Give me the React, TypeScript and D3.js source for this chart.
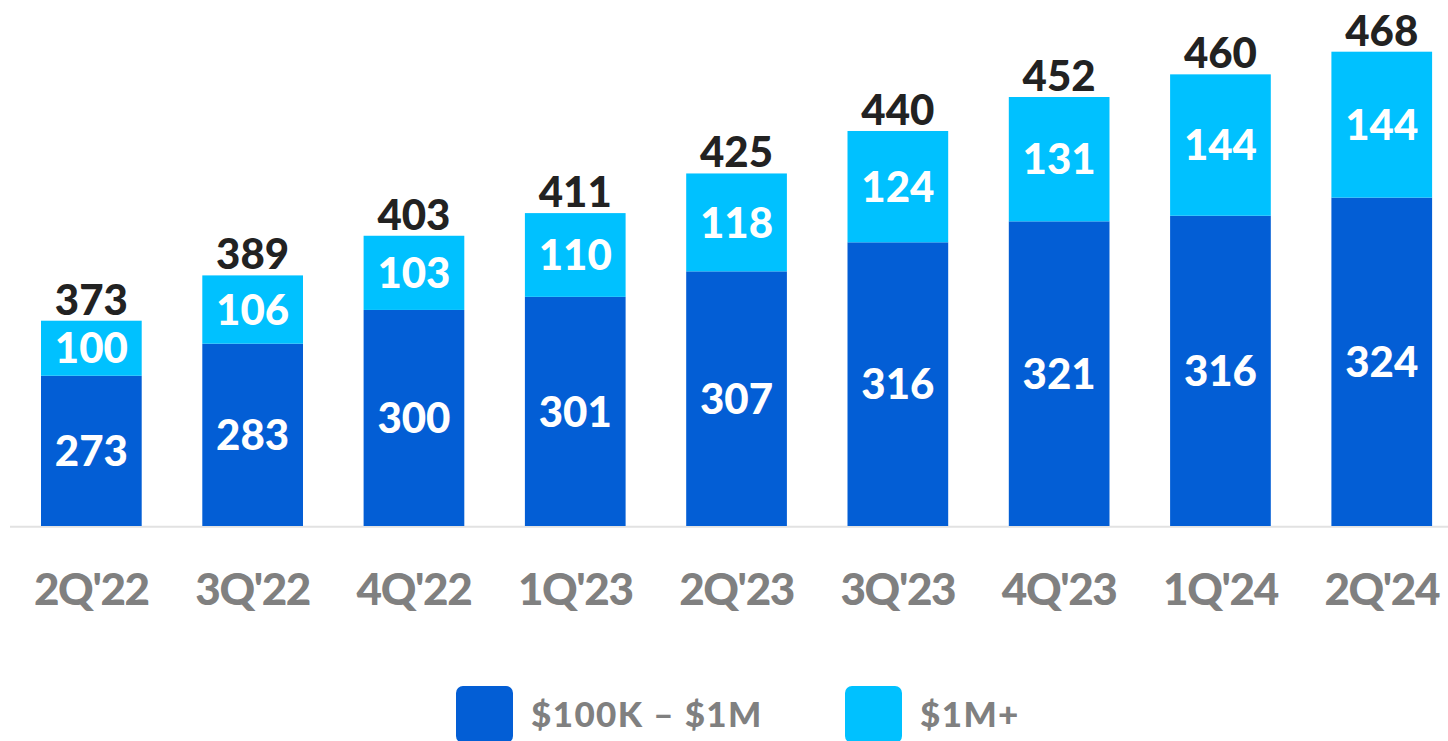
import React from "react";
import * as d3 from "d3";

const categories = ["2Q'22", "3Q'22", "4Q'22", "1Q'23", "2Q'23", "3Q'23", "4Q'23", "1Q'24", "2Q'24"];
const midTier = [273, 283, 300, 301, 307, 316, 321, 316, 324];
const topTier = [100, 106, 103, 110, 118, 124, 131, 144, 144];
const totals = [373, 389, 403, 411, 425, 440, 452, 460, 468];
const legendLabels = ["$100K – $1M", "$1M+"];

const W = 1448;
const H = 741;
const DARK = "#035ED5";
const LIGHT = "#00C1FF";
const FONT = "Lato, 'Open Sans', sans-serif";

export default function App() {
  const x = d3.scaleBand<string>().domain(categories).range([41, 1432.1]).paddingInner(0.3757).paddingOuter(0);
  const y = d3.scaleLinear().domain([300.5, 468]).range([526, 51.7]);
  const base = y(300.5);
  const legendColor = d3.scaleOrdinal<string, string>().domain(legendLabels).range([DARK, LIGHT]);
  const legendX = [456, 845];

  return (
    <svg width={W} height={H} style={{ position: "absolute", left: 0, top: 0, background: "#fff" }}>
      <line x1={10} x2={W} y1={526.8} y2={526.8} stroke="#e2e2e2" strokeWidth={2} />
      {categories.map((c, i) => {
        const bx = x(c)!;
        const bw = x.bandwidth();
        const topY = y(totals[i]);
        const h = base - topY;
        const darkH = (h * midTier[i]) / totals[i];
        const splitY = base - darkH;
        const cx = bx + bw / 2;
        return (
          <g key={c}>
            <rect x={bx} y={splitY} width={bw} height={darkH} fill={DARK} />
            <rect x={bx} y={topY} width={bw} height={splitY - topY} fill={LIGHT} />
            <text x={cx} y={(splitY + base) / 2} dy="0.36em" textAnchor="middle" fill="#fff"
              fontFamily={FONT} fontWeight={900} fontSize={42}>{midTier[i]}</text>
            <text x={cx} y={(topY + splitY) / 2} dy="0.36em" textAnchor="middle" fill="#fff"
              fontFamily={FONT} fontWeight={900} fontSize={42}>{topTier[i]}</text>
            <text x={cx} y={topY - 6} textAnchor="middle" fill="#222"
              fontFamily={FONT} fontWeight={900} fontSize={42}>{totals[i]}</text>
            <text x={cx} y={605} textAnchor="middle" fill="#808080" letterSpacing={-1.4}
              fontFamily={FONT} fontWeight={900} fontSize={44}>{c}</text>
          </g>
        );
      })}
      {legendLabels.map((l, i) => (
        <g key={l}>
          <rect x={legendX[i]} y={686} width={57} height={57} rx={7} fill={legendColor(l)} />
          <text x={legendX[i] + 75} y={727} fill="#808080" letterSpacing={1.4} fontFamily={FONT} fontWeight={900} fontSize={35}>{l}</text>
        </g>
      ))}
    </svg>
  );
}
